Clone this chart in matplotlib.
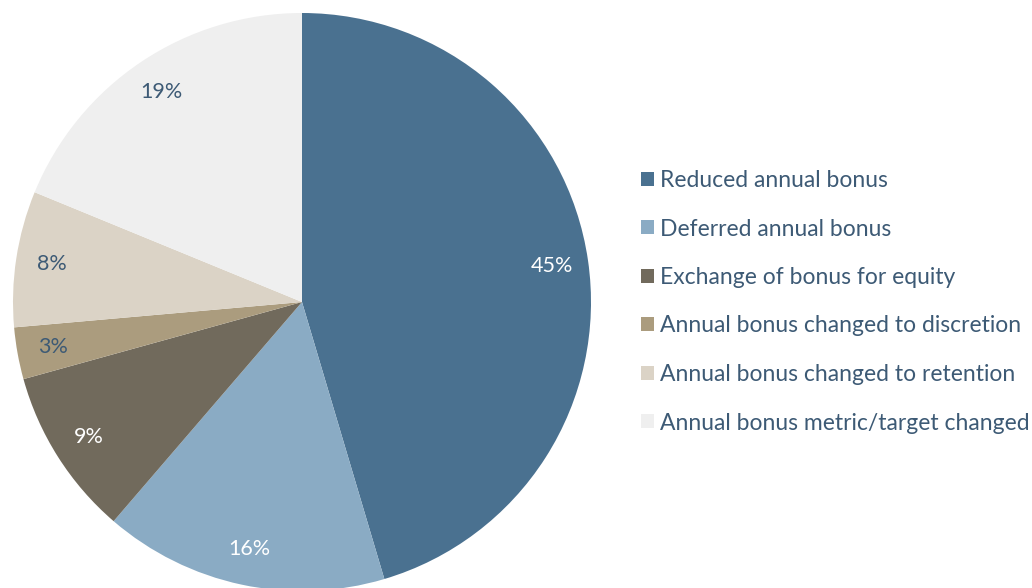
import matplotlib
matplotlib.use("Agg")
import matplotlib.pyplot as plt
from matplotlib.patches import Patch

categories = ["Reduced annual bonus", "Deferred annual bonus", "Exchange of bonus for equity",
              "Annual bonus changed to discretion", "Annual bonus changed to retention",
              "Annual bonus metric/target changed"]
values = [45.4, 15.9, 9.4, 2.9, 7.6, 18.8]
colors = ["#4a7190", "#8aabc4", "#716a5c", "#ab9c7e", "#dbd3c6", "#efefef"]
label_colors = ["white", "white", "white", "#3d5a75", "#3d5a75", "#3d5a75"]
text_color = "#3d5a75"

plt.rcParams['font.family'] = ['Lato', 'DejaVu Sans']

W, H = 1032, 588
fig = plt.figure(figsize=(W / 100, H / 100), dpi=100)
cx, cy, r = 302, 302, 289
ax = fig.add_axes([(cx - r) / W, (H - cy - r) / H, 2 * r / W, 2 * r / H])
wedges, texts, autotexts = ax.pie(values, colors=colors, startangle=90, counterclock=False,
                                  autopct=lambda p: f"{round(p)}%", pctdistance=0.875,
                                  radius=1, wedgeprops=dict(linewidth=0))
for t, c in zip(autotexts, label_colors):
    t.set_color(c)
    t.set_fontsize(15.5)
ax.set_xlim(-1, 1)
ax.set_ylim(-1, 1)
ax.axis('off')

handles = [Patch(facecolor=c, edgecolor='none') for c in colors]
leg = fig.legend(handles, categories, loc='upper left', bbox_to_anchor=(641 / W, 1 - 170 / H),
                 frameon=False, fontsize=16.5, handlelength=0.55, handleheight=0.55,
                 handletextpad=0.3, labelspacing=1.2, borderpad=0, borderaxespad=0)
for t in leg.get_texts():
    t.set_color(text_color)

fig.savefig("out.png", dpi=100)
